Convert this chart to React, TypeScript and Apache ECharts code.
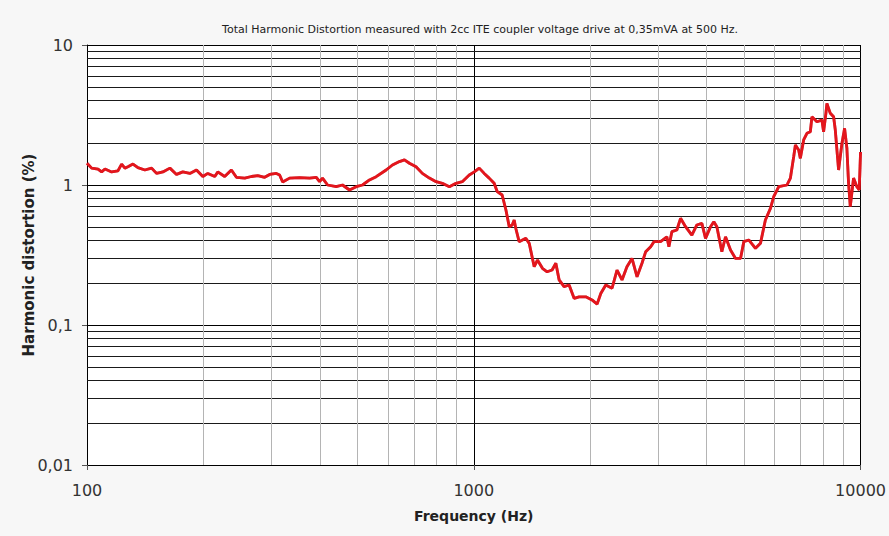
import React, { useEffect, useRef } from "react";
import * as echarts from "echarts";

const freqHz = [
  100, 102.8, 106.8, 109.1, 111.3, 115.8, 120.2, 122.9, 125.3, 127.6, 131.5, 135.4, 141.1, 146.9, 151.3, 157.1,
  163.8, 170.4, 176.9, 184.5, 191.9, 199.3, 205.3, 214, 217.8, 227, 236.2, 243.4, 255.7, 266.1, 276.3, 288,
  296.7, 308.7, 314.8, 320.5, 334.1, 354.6, 376.3, 391.6, 399.4, 406.4, 418.8, 441, 457.7, 477.2, 496.6, 515.6,
  537.5, 559.4, 593.5, 616.3, 642.4, 661.8, 681.7, 709.2, 736.3, 767.7, 799, 829.4, 864.8, 899.5, 933.8, 973.6,
  1003, 1033, 1064, 1096, 1129, 1150, 1184, 1211, 1235, 1257, 1272, 1284, 1310, 1363, 1391, 1433,
  1461, 1505, 1548, 1594, 1630, 1662, 1712, 1764, 1817, 1872, 1948, 2022, 2084, 2130, 2194, 2278,
  2346, 2417, 2489, 2565, 2643, 2722, 2783, 2867, 2923, 3041, 3157, 3195, 3252, 3350, 3425, 3528,
  3663, 3774, 3888, 3974, 4094, 4175, 4251, 4379, 4476, 4611, 4751, 4894, 4991, 5140, 5350, 5511,
  5675, 5848, 5964, 6145, 6453, 6586, 6716, 6785, 6918, 6988, 7127, 7267, 7416, 7487, 7712, 7944,
  8025, 8136, 8185, 8352, 8518, 8604, 8774, 8950, 9094, 9219, 9312, 9407, 9592, 9783, 9922, 10000,
];

const thdPercent = [
  1.43, 1.32, 1.3, 1.24, 1.3, 1.24, 1.26, 1.41, 1.32, 1.35, 1.41, 1.33, 1.28, 1.32, 1.21, 1.24,
  1.32, 1.19, 1.24, 1.21, 1.28, 1.15, 1.21, 1.15, 1.24, 1.15, 1.28, 1.135, 1.12, 1.15, 1.165, 1.135,
  1.19, 1.21, 1.18, 1.05, 1.12, 1.13, 1.12, 1.135, 1.056, 1.12, 1.0, 0.973, 1.0, 0.921, 0.973, 1.0,
  1.086, 1.146, 1.28, 1.39, 1.47, 1.51, 1.43, 1.35, 1.21, 1.12, 1.056, 1.028, 0.973, 1.028, 1.056, 1.18,
  1.24, 1.32, 1.21, 1.12, 1.028, 0.896, 0.848, 0.663, 0.504, 0.518, 0.562, 0.491, 0.394, 0.416, 0.383, 0.261,
  0.291, 0.254, 0.24, 0.247, 0.276, 0.21, 0.188, 0.193, 0.155, 0.159, 0.159, 0.151, 0.141, 0.168, 0.193, 0.183,
  0.247, 0.21, 0.261, 0.299, 0.221, 0.276, 0.334, 0.362, 0.394, 0.394, 0.427, 0.362, 0.464, 0.477, 0.578, 0.504,
  0.439, 0.518, 0.532, 0.416, 0.504, 0.547, 0.504, 0.334, 0.427, 0.343, 0.299, 0.299, 0.394, 0.405, 0.353, 0.383,
  0.562, 0.681, 0.825, 0.973, 1.0, 1.12, 1.59, 1.93, 1.78, 1.55, 2.1, 2.34, 2.4, 3.07, 2.83, 2.91,
  2.4, 3.25, 3.83, 3.25, 3.07, 2.47, 1.28, 1.98, 2.54, 1.83, 1.028, 0.7, 1.12, 0.973, 0.921, 1.72,
];

const minorYValues = [
  0.02, 0.03, 0.04, 0.05, 0.06, 0.07, 0.08, 0.09,
  0.2, 0.3, 0.4, 0.5, 0.6, 0.7, 0.8, 0.9,
  2, 3, 4, 5, 6, 7, 8, 9,
];
const minorXValues = [200, 300, 400, 500, 600, 700, 800, 900, 2000, 3000, 4000, 5000, 6000, 7000, 8000, 9000];

const titleText = "Total Harmonic Distortion measured with 2cc ITE coupler voltage drive at 0,35mVA at 500 Hz.";
const xName = "Frequency (Hz)";
const yName = "Harmonic distortion (%)";

const fmt = (v: number) => String(v).replace(".", ",");

export default function App() {
  const ref = useRef<HTMLDivElement>(null);
  useEffect(() => {
    if (!ref.current) return;
    const chart = echarts.init(ref.current, null, { renderer: "svg" });
    const points = freqHz.map((f, i) => [f, thdPercent[i]]);
    const font = "'DejaVu Sans', Verdana, sans-serif";
    chart.setOption({
      animation: false,
      backgroundColor: "#f7f7f7",
      textStyle: { fontFamily: font },
      title: {
        text: titleText,
        left: 475,
        top: 19,
        textAlign: "center",
        textStyle: { fontSize: 11, fontWeight: "normal", color: "#222", fontFamily: font },
      },
      grid: {
        left: 87,
        right: 27,
        top: 45,
        bottom: 71,
        show: true,
        backgroundColor: "#ffffff",
        borderWidth: 0,
      },
      xAxis: {
        type: "log",
        logBase: 10,
        min: 100,
        max: 10000,
        name: xName,
        nameLocation: "middle",
        nameGap: 44,
        nameMoveOverlap: false,
        nameTextStyle: { fontSize: 14, fontWeight: "bold", color: "#222", fontFamily: font },
        axisLine: { show: true, lineStyle: { color: "#000", width: 1 } },
        axisTick: { show: true, length: 5, lineStyle: { color: "#555" } },
        axisLabel: { fontSize: 16, color: "#333", margin: 17, formatter: (v: number) => fmt(v), fontFamily: font },
        splitLine: { show: true, lineStyle: { color: "#000", width: 1 } },
      },
      yAxis: {
        type: "log",
        logBase: 10,
        min: 0.01,
        max: 10,
        name: yName,
        nameLocation: "middle",
        nameGap: 51,
        nameRotate: 90,
        nameMoveOverlap: false,
        nameTextStyle: { fontSize: 15, fontWeight: "bold", color: "#222", fontFamily: font },
        axisLine: { show: true, lineStyle: { color: "#000", width: 1 } },
        axisTick: { show: true, length: 5, lineStyle: { color: "#555" } },
        axisLabel: { fontSize: 16, color: "#333", margin: 14, formatter: (v: number) => fmt(v), fontFamily: font },
        splitLine: { show: true, lineStyle: { color: "#000", width: 1 } },
      },
      series: [
        {
          type: "line",
          name: "grid-y",
          data: [],
          silent: true,
          z: 1,
          markLine: {
            silent: true,
            symbol: ["none", "none"],
            label: { show: false },
            lineStyle: { color: "#1a1a1a", width: 1, type: "solid" },
            data: minorYValues.map((v) => ({ yAxis: v })),
          },
        },
        {
          type: "line",
          name: "grid-x",
          data: [],
          silent: true,
          z: 1,
          markLine: {
            silent: true,
            symbol: ["none", "none"],
            label: { show: false },
            lineStyle: { color: "#b4b4b4", width: 1, type: "solid" },
            data: minorXValues.map((v) => ({ xAxis: v })),
          },
        },
        {
          type: "line",
          name: "THD",
          data: points,
          showSymbol: false,
          symbol: "none",
          z: 5,
          lineStyle: { color: "#e3121b", width: 2.8, shadowColor: "rgba(120,0,0,0.5)", shadowBlur: 1.5 },
        },
      ],
    });
    return () => chart.dispose();
  }, []);
  return <div ref={ref} style={{ width: 889, height: 536, position: "absolute", left: 0, top: 0 }} />;
}
